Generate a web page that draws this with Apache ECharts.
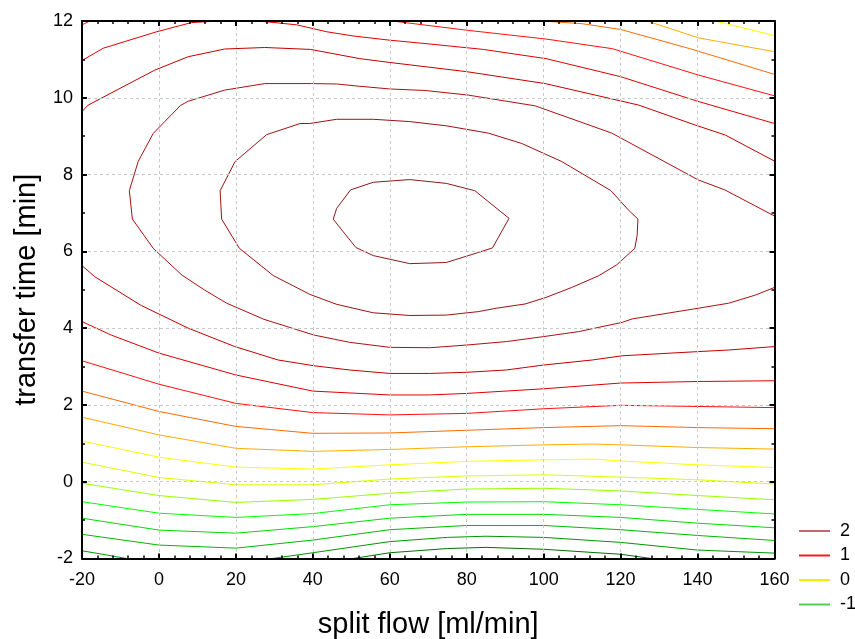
<!DOCTYPE html>
<html>
<head>
<meta charset="utf-8">
<script src="https://cdn.jsdelivr.net/npm/echarts@6/dist/echarts.min.js"></script>
<style>
html,body{margin:0;padding:0;background:#fff;}
#chart{width:855px;height:639px;}
</style>
</head>
<body>
<div id="chart"></div>
<script>
// ---- axis ticks ----
const xTicks = [-20, 0, 20, 40, 60, 80, 100, 120, 140, 160];
const yTicks = [-2, 0, 2, 4, 6, 8, 10, 12];
const xTitle = 'split flow [ml/min]';
const yTitle = 'transfer time [min]';

// ---- contour levels (highest first) ----
const levelNames = ['2.67','2.33','2','1.67','1.33','1','0.67','0.33','0','-0.33','-0.67','-1','-1.33','-1.67','-2','-2.33'];
const legendNames = ['2','1','0','-1'];

// ---- contour polylines [split flow, transfer time] ----
const c_267 = [[45.3,6.84],[46.2,7.12],[49.8,7.60],[55.7,7.80],[65.2,7.87],[74.7,7.77],[82.1,7.58],[91.0,6.86],[86.7,6.09],[83.0,5.97],[74.7,5.71],[65.2,5.68],[55.7,5.89],[51.2,6.10],[47.9,6.51],[45.3,6.84]];
const c_233 = [[39.2,9.33],[46.2,9.44],[55.7,9.44],[65.2,9.38],[74.7,9.27],[85.6,9.08],[94.3,8.81],[104.7,8.34],[117.5,7.58],[122,7.08],[124.5,6.84],[124.3,6.42],[123.7,6.08],[119,5.65],[114.2,5.36],[107.3,5.06],[100.6,4.80],[95.2,4.63],[87.8,4.52],[83,4.43],[74.7,4.34],[65.2,4.33],[55.7,4.40],[46.2,4.62],[39.2,4.88],[29.7,5.37],[20.9,6.08],[16.3,6.84],[15.9,7.58],[19.8,8.34],[28.0,9.04],[36.7,9.33],[39.2,9.33]];
const c_200 = [[160,6.92],[147.1,7.6],[140.2,7.86],[117.7,9.08],[97.8,9.79],[80.4,10.07],[69.2,10.19],[60,10.23],[52.2,10.30],[46.2,10.36],[39.6,10.37],[27.5,10.37],[17.1,10.2],[7.6,9.91],[5.6,9.8],[-1.5,9.07],[-5.4,8.34],[-7.7,7.58],[-6.9,6.84],[-1.5,6.08],[6.0,5.38],[11.9,4.99],[17.6,4.65],[27.3,4.23],[40.3,3.82],[49.6,3.63],[60,3.5],[70.4,3.49],[80,3.56],[90.3,3.65],[100,3.78],[109.1,3.91],[120.4,4.15],[123,4.24],[140.3,4.52],[148.1,4.65],[155,4.86],[160,5.06]];
const c_167_top = [[-20,9.64],[-18.4,9.81],[-1.1,10.72],[7.6,11.07],[17.1,11.27],[27.5,11.31],[39.4,11.26],[52.2,11.02],[60,10.92],[80,10.68],[100.4,10.37],[124.7,9.81],[139.4,9.29],[147.2,9.03],[160,8.35]];
const c_167_bot = [[-20,5.63],[-16.7,5.34],[-12.5,5.08],[-4.6,4.59],[7.6,4.0],[19.7,3.52],[31.0,3.17],[40.3,3.02],[49.6,2.91],[60,2.82],[70.4,2.82],[80,2.85],[90.3,2.91],[100,3.04],[112.6,3.17],[120.4,3.28],[140.3,3.39],[148,3.43],[160,3.52]];
const c_133_top = [[-20,10.97],[-14.5,11.29],[-0.6,11.72],[8.5,11.96],[15.9,12.0],[22,12.01],[28,11.98],[35.8,11.9],[43.6,11.72],[50.5,11.61],[60,11.5],[70.5,11.4],[84.3,11.26],[100.6,11.02],[120,10.55],[140,9.91],[160,9.33]];
const c_133_bot = [[-20,4.17],[-12.4,3.82],[0,3.35],[20,2.78],[40,2.36],[60,2.26],[70.4,2.26],[80,2.30],[100,2.42],[120,2.57],[140,2.61],[160,2.63]];
const c_100_corner = [[-20,11.9],[-17.5,12.02]];
const c_100_top = [[59,12.02],[80,11.76],[100.6,11.53],[117.8,11.28],[140.3,10.59],[160,10.05]];
const c_100_bot = [[-20,3.15],[0,2.54],[20,2.04],[40,1.80],[60,1.74],[80,1.78],[100,1.90],[120,1.99],[140,1.96],[160,1.93]];
const c_067_top = [[99.5,12.0],[110,11.93],[120,11.78],[138,11.28],[160,10.61]];
const c_067_bot = [[-20,2.36],[0,1.83],[20,1.44],[40,1.26],[60,1.27],[80,1.34],[100,1.41],[120,1.46],[140,1.41],[160,1.38]];
const c_033_top = [[126.9,12.0],[140.3,11.56],[160,11.2]];
const c_033_bot = [[-20,1.68],[0,1.22],[20,0.87],[40,0.79],[60,0.84],[80,0.91],[100,0.96],[113,0.98],[120,0.96],[140,0.89],[160,0.85]];
const c_000_top = [[144.6,12.0],[160,11.62]];
const c_000_bot = [[-20,1.06],[0,0.64],[20,0.38],[40,0.33],[60,0.44],[80,0.53],[100,0.57],[113,0.59],[120,0.54],[140,0.44],[160,0.37]];
const c_m033 = [[-20,0.51],[0,0.11],[20,-0.08],[40,-0.08],[60,0.07],[80,0.15],[100,0.18],[120,0.12],[140,0.05],[160,-0.06]];
const c_m067 = [[-20,-0.04],[0,-0.36],[20,-0.54],[40,-0.46],[60,-0.30],[80,-0.19],[100,-0.17],[120,-0.24],[140,-0.36],[160,-0.47]];
const c_m100 = [[-20,-0.52],[0,-0.82],[20,-0.93],[40,-0.83],[60,-0.60],[80,-0.53],[100,-0.52],[120,-0.60],[140,-0.72],[160,-0.84]];
const c_m133 = [[-20,-0.95],[0,-1.26],[20,-1.34],[40,-1.17],[60,-0.95],[80,-0.85],[100,-0.85],[120,-0.93],[140,-1.08],[160,-1.2]];
const c_m167 = [[-20,-1.37],[0,-1.65],[20,-1.73],[40,-1.52],[60,-1.25],[80,-1.14],[100,-1.14],[120,-1.25],[140,-1.40],[160,-1.53]];
const c_m200_left = [[-20,-1.80],[-14,-1.9],[-8.5,-2.0]];
const c_m200_right = [[29.5,-2.0],[40,-1.85],[60,-1.56],[75,-1.45],[85,-1.42],[100,-1.45],[120,-1.58],[140,-1.78],[160,-1.86]];
const c_m233 = [[50.5,-2.0],[60,-1.85],[75,-1.74],[85,-1.71],[100,-1.76],[120,-1.89],[128,-2.0]];

// which polylines belong to which level
const pieces = [
  ['2.67', c_267], ['2.33', c_233], ['2', c_200],
  ['1.67', c_167_top], ['1.67', c_167_bot],
  ['1.33', c_133_top], ['1.33', c_133_bot],
  ['1', c_100_corner], ['1', c_100_top], ['1', c_100_bot],
  ['0.67', c_067_top], ['0.67', c_067_bot],
  ['0.33', c_033_top], ['0.33', c_033_bot],
  ['0', c_000_top], ['0', c_000_bot],
  ['-0.33', c_m033], ['-0.67', c_m067], ['-1', c_m100],
  ['-1.33', c_m133], ['-1.67', c_m167],
  ['-2', c_m200_left], ['-2', c_m200_right], ['-2.33', c_m233]
];

// ---- styles ----
const levelColors = {
  '2.67':'#8b1a1a','2.33':'#9a1212','2':'#ab1010','1.67':'#c40000','1.33':'#e00000','1':'#ff1010',
  '0.67':'#ff6a00','0.33':'#ffad00','0':'#ffff00','-0.33':'#dcff00','-0.67':'#98ff00','-1':'#00ff00',
  '-1.33':'#00dd00','-1.67':'#00bb00','-2':'#009600','-2.33':'#007000'
};
const legendColors = { '2':'#c26868', '1':'#e82020', '0':'#f0f000', '-1':'#50d050' };
const FONT = 'Liberation Sans, Arial, Helvetica, sans-serif';

const series = pieces.map(function (p) {
  return {
    type: 'line', name: p[0], data: p[1],
    symbol: 'none', showSymbol: false, smooth: false, clip: true,
    lineStyle: { color: levelColors[p[0]], width: 1 },
    itemStyle: { color: legendColors[p[0]] || levelColors[p[0]] },
    emphasis: { disabled: true }, silent: true, z: 2
  };
});

const baseAxisLine = { show: true, onZero: false, lineStyle: { color: '#000', width: 2 } };
const chart = echarts.init(document.getElementById('chart'), null, { renderer: 'canvas' });
chart.setOption({
  backgroundColor: '#fff',
  animation: false,
  textStyle: { fontFamily: FONT },
  grid: { left: 82, top: 21, width: 692.5, height: 537.5, containLabel: false, outerBoundsMode: 'none' },
  legend: {
    data: legendNames.map(function (n) { return { name: n, icon: 'rect' }; }),
    orient: 'vertical', left: 794, top: 517,
    itemWidth: 31, itemHeight: 2, itemGap: 6.5,
    textStyle: { fontSize: 18, color: '#000', fontFamily: FONT, padding: [0, 0, 0, 5], lineHeight: 18 },
    selectedMode: false
  },
  xAxis: [{
    type: 'value', min: xTicks[0], max: xTicks[xTicks.length - 1], interval: 20, position: 'bottom', z: 5,
    axisLine: baseAxisLine,
    axisTick: { show: true, inside: true, length: 5, lineStyle: { color: '#000', width: 2 } },
    minorTick: { show: true, splitNumber: 5, length: 3, lineStyle: { color: '#000', width: 1.5 } },
    splitLine: { show: true, lineStyle: { color: '#c8c8c8', width: 1, type: [3, 3] } },
    axisLabel: { fontSize: 18, color: '#000', margin: 13, fontFamily: FONT },
    name: xTitle, nameLocation: 'middle', nameGap: 52,
    nameTextStyle: { fontSize: 29, color: '#000', fontFamily: FONT }
  }, {
    type: 'value', min: xTicks[0], max: xTicks[xTicks.length - 1], interval: 20, position: 'top', z: 5,
    axisLine: baseAxisLine,
    axisTick: { show: true, inside: true, length: 5, lineStyle: { color: '#000', width: 2 } },
    minorTick: { show: true, splitNumber: 5, length: 3, lineStyle: { color: '#000', width: 1.5 } },
    splitLine: { show: false }, axisLabel: { show: false }
  }],
  yAxis: [{
    type: 'value', min: yTicks[0], max: yTicks[yTicks.length - 1], interval: 2, position: 'left', z: 5,
    axisLine: baseAxisLine,
    axisTick: { show: true, inside: true, length: 5, lineStyle: { color: '#000', width: 2 } },
    minorTick: { show: true, splitNumber: 2, length: 3, lineStyle: { color: '#000', width: 1.5 } },
    splitLine: { show: true, lineStyle: { color: '#c8c8c8', width: 1, type: [3, 3] } },
    axisLabel: { fontSize: 18, color: '#000', margin: 9, fontFamily: FONT },
    name: yTitle, nameLocation: 'middle', nameGap: 41,
    nameTextStyle: { fontSize: 29, color: '#000', fontFamily: FONT }
  }, {
    type: 'value', min: yTicks[0], max: yTicks[yTicks.length - 1], interval: 2, position: 'right', z: 5,
    axisLine: baseAxisLine,
    axisTick: { show: true, inside: true, length: 5, lineStyle: { color: '#000', width: 2 } },
    minorTick: { show: true, splitNumber: 2, length: 3, lineStyle: { color: '#000', width: 1.5 } },
    splitLine: { show: false }, axisLabel: { show: false }
  }],
  series: series
});
</script>
</body>
</html>
